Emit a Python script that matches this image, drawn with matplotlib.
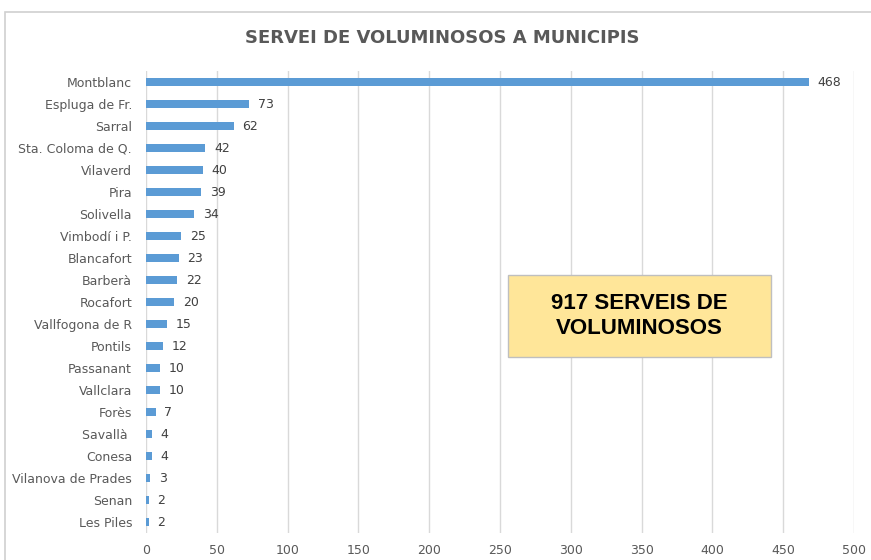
import matplotlib.pyplot as plt
from matplotlib.patches import Rectangle
import numpy as np

municipis = ['Montblanc', 'Espluga de Fr.', 'Sarral', 'Sta. Coloma de Q.', 'Vilaverd',
             'Pira', 'Solivella', 'Vimbodí i P.', 'Blancafort', 'Barberà', 'Rocafort',
             'Vallfogona de R', 'Pontils', 'Passanant', 'Vallclara', 'Forès', 'Savallà ',
             'Conesa', 'Vilanova de Prades', 'Senan', 'Les Piles']
serveis = [468, 73, 62, 42, 40, 39, 34, 25, 23, 22, 20, 15, 12, 10, 10, 7, 4, 4, 3, 2, 2]
x_ticks = [0, 50, 100, 150, 200, 250, 300, 350, 400, 450, 500]

fig = plt.figure(figsize=(8.71, 5.6), dpi=100)
fig.patch.set_facecolor('white')

# chart border (cut off at right/bottom like the screenshot)
fig.patches.append(Rectangle((5 / 871, -0.05), 1.0, 1 - 12 / 560 + 0.05,
                             transform=fig.transFigure, fill=False,
                             edgecolor='#D0D0D0', linewidth=1.2))

ax = fig.add_axes([146 / 871, 1 - 533 / 560, 708 / 871, 462 / 560])
y = np.arange(len(municipis))
ax.barh(y, serveis, height=0.33, color='#5B9BD5', zorder=3)
ax.set_ylim(len(municipis) - 0.5, -0.5)
ax.set_xlim(0, 500)
ax.set_yticks(y)
ax.set_yticklabels(municipis, fontsize=9, color='#595959')
ax.set_xticks(x_ticks)
ax.set_xticklabels([str(t) for t in x_ticks], fontsize=9, color='#595959')
ax.tick_params(length=0)
ax.tick_params(axis='y', pad=10)
ax.tick_params(axis='x', pad=8)
ax.grid(axis='x', color='#D9D9D9', linewidth=1, zorder=0)
for s in ax.spines.values():
    s.set_visible(False)

for yi, v in zip(y, serveis):
    ax.text(v + 6, yi, str(v), va='center', ha='left', fontsize=9, color='#404040')

fig.text(0.5 * (248 + 637) / 871, 1 - 38 / 560, 'SERVEI DE VOLUMINOSOS A MUNICIPIS',
         ha='center', va='center', fontsize=13, fontweight='bold', color='#595959')

# summary box
fig.patches.append(Rectangle((508 / 871, 1 - 357 / 560), 263 / 871, 82 / 560,
                             transform=fig.transFigure, facecolor='#FFE699',
                             edgecolor='#BFBFBF', linewidth=1, zorder=5))
fig.text(639.5 / 871, 1 - 316 / 560, '917 SERVEIS DE\nVOLUMINOSOS', ha='center', va='center',
         fontsize=16, fontweight='bold', color='black', linespacing=1.2,
         family=['Liberation Sans Narrow', 'Liberation Sans'], zorder=6)

fig.savefig('out.png', dpi=100)
